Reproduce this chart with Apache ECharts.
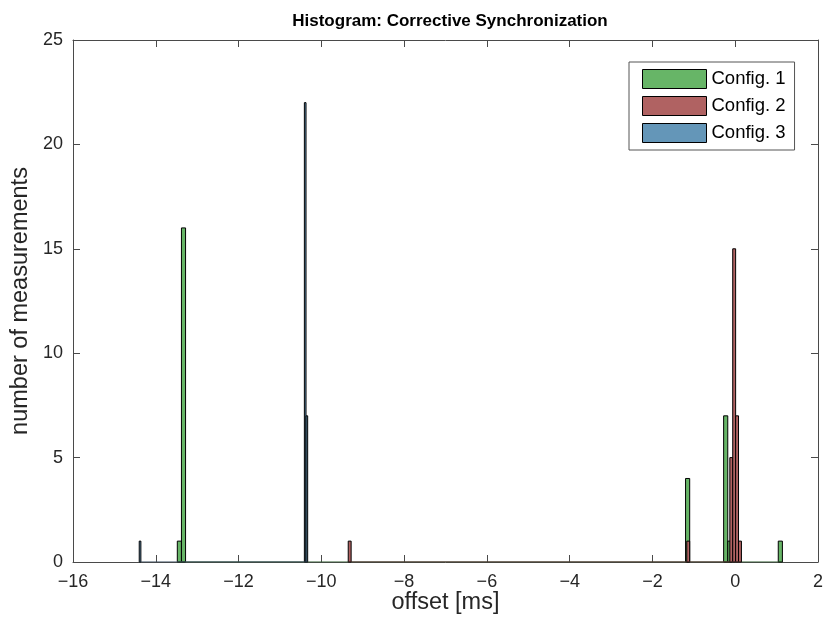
<!DOCTYPE html>
<html>
<head>
  <meta charset="utf-8">
  <script src="https://cdn.jsdelivr.net/npm/echarts/dist/echarts.min.js"></script>
  <title>Histogram: Corrective Synchronization</title>
  <style>
    html, body { margin: 0; padding: 0; background: #fff; }
    #chart { width: 826px; height: 634px; }
  </style>
</head>
<body>
  <div id="chart"></div>
  <script>
    // bin left edges and counts (offset in ms)
    const config1Starts = [-13.48, -13.38, -1.20, -0.28, -0.18, 1.04];
    const config1Counts = [1, 16, 4, 7, 1, 1];
    const config1Width = 0.1;

    const config2Starts = [-9.35, -1.17, -0.13, -0.06, 0.01, 0.08];
    const config2Counts = [1, 1, 5, 15, 7, 1];
    const config2Width = 0.07;

    const config3Starts = [-14.40, -10.41, -10.37];
    const config3Counts = [1, 22, 7];
    const config3Width = 0.04;

    const seriesNames = ["Config. 1", "Config. 2", "Config. 3"];
    const xTicks = [-16, 2, 2];   // min, max, step
    const yTicks = [0, 25, 5];

    const fillColors = ["#67b567", "#b06262", "#6496b8"];
    const baseColors = ["#2f5a2f", "#5a3232", "#34495a"];
    const font = "'Liberation Sans', Arial, Helvetica, sans-serif";
    const axisColor = "#4a4a4a";
    const textColor = "#262626";

    function bins(starts, counts, width) {
      return starts.map((s, i) => [s, s + width, counts[i]]);
    }

    function renderBin(params, api) {
      const top = api.coord([api.value(0), api.value(2)]);
      const bottom = api.coord([api.value(1), 0]);
      return {
        type: "rect",
        shape: { x: top[0], y: top[1], width: bottom[0] - top[0], height: bottom[1] - top[1] },
        style: { fill: api.visual("color"), stroke: "#000", lineWidth: 1 },
      };
    }

    // matlab writes a real minus sign
    const tickFmt = v => String(v).replace("-", "\u2212");

    const configs = [
      bins(config1Starts, config1Counts, config1Width),
      bins(config2Starts, config2Counts, config2Width),
      bins(config3Starts, config3Counts, config3Width),
    ];

    const series = [];
    configs.forEach((data, i) => {
      const lo = Math.min(...data.map(d => d[0]));
      const hi = Math.max(...data.map(d => d[1]));
      // empty bins show as a line along the base
      series.push({
        type: "line",
        data: [[lo, 0], [hi, 0]],
        symbol: "none",
        silent: true,
        lineStyle: { color: baseColors[i], width: 1.2 },
        z: 2 + i,
      });
      series.push({
        name: seriesNames[i],
        type: "custom",
        renderItem: renderBin,
        encode: { x: [0, 1], y: 2 },
        data: data,
        itemStyle: { color: fillColors[i], borderColor: "#000", borderWidth: 1 },
        z: 2 + i,
      });
    });

    const tickStyle = { show: true, inside: true, length: 7, lineStyle: { color: axisColor } };
    const lineStyle = { show: true, onZero: false, lineStyle: { color: axisColor, width: 1 } };

    const chart = echarts.init(document.getElementById("chart"));
    chart.setOption({
      animation: false,
      textStyle: { fontFamily: font },
      title: {
        text: "Histogram: Corrective Synchronization",
        left: 445,
        top: 8,
        textAlign: "center",
        textStyle: { fontFamily: font, fontSize: 17, fontWeight: "bold", color: "#000" },
      },
      grid: { left: 73, right: 8, top: 40, bottom: 72 },
      legend: {
        orient: "vertical",
        left: 629,
        top: 62,
        padding: [7, 9, 7, 13],
        itemWidth: 64,
        itemHeight: 19,
        itemGap: 7,
        borderColor: "#555",
        borderWidth: 1,
        backgroundColor: "#fff",
        textStyle: { fontFamily: font, fontSize: 18.5, color: "#000" },
        data: seriesNames.map((n, i) => ({
          name: n,
          icon: "rect",
          itemStyle: { color: fillColors[i], borderColor: "#000", borderWidth: 1 },
        })),
      },
      xAxis: [
        {
          type: "value",
          min: xTicks[0],
          max: xTicks[1],
          interval: xTicks[2],
          name: "offset [ms]",
          nameLocation: "middle",
          nameGap: 29,
          nameMoveOverlap: false,
          nameTextStyle: { fontFamily: font, fontSize: 23.5, color: textColor },
          axisLine: lineStyle,
          axisTick: tickStyle,
          splitLine: { show: false },
          axisLabel: { fontFamily: font, fontSize: 18, color: textColor, margin: 11, formatter: tickFmt },
        },
        {
          type: "value",
          position: "top",
          min: xTicks[0],
          max: xTicks[1],
          interval: xTicks[2],
          axisLine: lineStyle,
          axisTick: tickStyle,
          splitLine: { show: false },
          axisLabel: { show: false },
        },
      ],
      yAxis: [
        {
          type: "value",
          min: yTicks[0],
          max: yTicks[1],
          interval: yTicks[2],
          name: "number of measurements",
          nameLocation: "middle",
          nameGap: 37,
          nameTextStyle: { fontFamily: font, fontSize: 23.5, color: textColor },
          axisLine: lineStyle,
          axisTick: tickStyle,
          splitLine: { show: false },
          axisLabel: { fontFamily: font, fontSize: 18, color: textColor, margin: 10 },
        },
        {
          type: "value",
          position: "right",
          min: yTicks[0],
          max: yTicks[1],
          interval: yTicks[2],
          axisLine: lineStyle,
          axisTick: tickStyle,
          splitLine: { show: false },
          axisLabel: { show: false },
        },
      ],
      series: series,
    });
  </script>
</body>
</html>
